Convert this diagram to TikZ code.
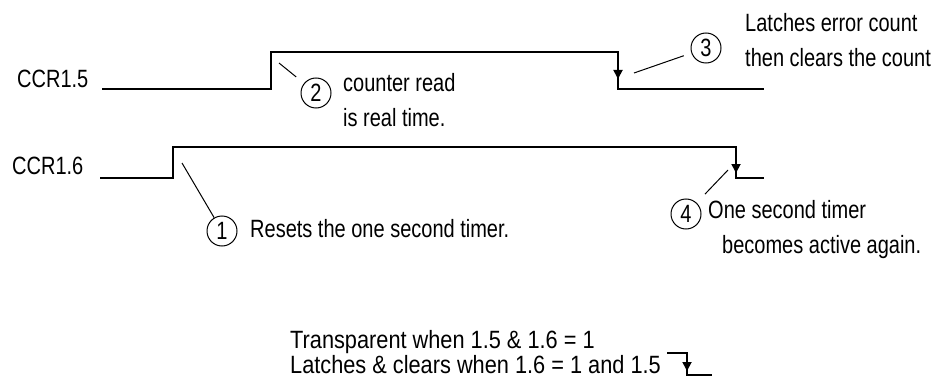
\documentclass[tikz,border=0pt]{standalone}
\usepackage{fontspec}
\setmainfont{Liberation Sans}[FakeStretch=0.8]
\usetikzlibrary{arrows.meta, positioning}

\tikzset{
  wave/.style={line width=1.8pt},
  leader/.style={line width=1pt},
  num/.style={draw, circle, line width=1pt, inner sep=0pt, minimum size=30pt},
  note/.style={align=left, inner sep=0pt, anchor=west},
  wide/.style={inner sep=0pt, anchor=base west, font=\fontsize{25}{35}\selectfont\addfontfeature{FakeStretch=0.87}},
  tip/.style={-{Triangle[width=9pt,length=9pt]}, line width=1.8pt},
}

\begin{document}
\begin{tikzpicture}[x=1pt, y=-1pt, font=\fontsize{25}{35}\selectfont]
    \useasboundingbox (0,0) rectangle (952,377);
    % signal names
    \node[note] (ccra) at (17,79) {CCR1.5};
    \node[note] (ccrb) at (12,166) {CCR1.6};
    % waveforms
    \draw[wave] (102,89) -- (271,89) -- (271,52) -- (618,52) -- (618,89) -- (764,89);
    \draw[tip] (618,60) -- (618,79);
    \draw[wave] (100,178) -- (173,178) -- (173,147) -- (736,147) -- (736,178) -- (764,178);
    \draw[tip] (736,155) -- (736,173);
    % numbered events
    \node[num] (n1) at (222,231) {1};
    \node[num] (n2) at (316,93) {2};
    \node[num] (n3) at (706,48) {3};
    \node[num] (n4) at (686,214) {4};
    \coordinate (p1) at (182,163);
    \coordinate (p2) at (279,63);
    \coordinate (p3) at (634,73);
    \coordinate (p4) at (728,170);
    \draw[leader] (p1) -- (n1);
    \draw[leader, shorten >=10pt] (p2) -- (n2);
    \draw[leader, shorten >=8pt] (p3) -- (n3);
    \draw[leader, shorten >=12pt] (p4) -- (n4);
    % notes
    \node[note] (t1) at (250,229) {Resets the one second timer.};
    \node[note] (t2) at (343,100) {counter read\\is real time.};
    \node[note] (t3) at (745,40) {Latches error count\\then clears the count};
    \node[note] (t4) at (708,230) {One second timer\\\hspace*{14pt}becomes active again.};
    \node[wide] (t5) at (290,348) {Transparent when 1.5 \& 1.6 = 1};
    \node[wide] (t6) at (290,373) {Latches \& clears when 1.6 = 1 and 1.5};
    % latch symbol
    \draw[wave] (667,353) -- (687,353) -- (687,375) -- (712,375);
    \draw[tip] (687,357) -- (687,371);
\end{tikzpicture}
\end{document}
